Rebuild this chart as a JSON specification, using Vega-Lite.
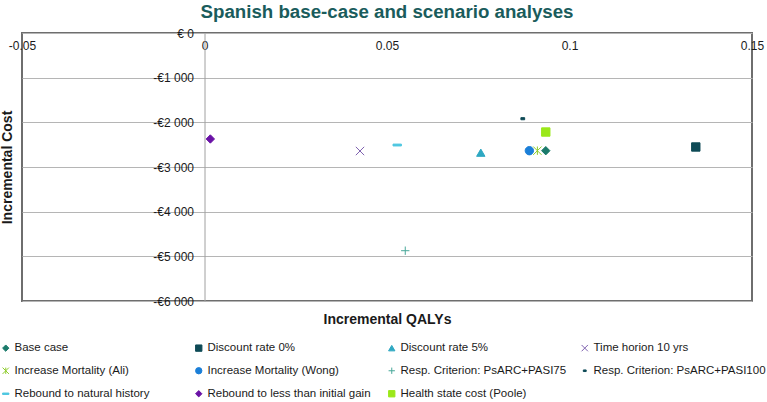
{
  "$schema": "https://vega.github.io/schema/vega-lite/v6.json",
  "width": 730,
  "height": 268,
  "autosize": {"type": "none"},
  "padding": {"left": 22, "top": 33, "right": 15, "bottom": 101},
  "background": "white",
  "config": {
    "font": "Liberation Sans",
    "view": {"stroke": "#6e6e6e", "strokeWidth": 2}
  },
  "title": {
    "text": "Spanish base-case and scenario analyses",
    "fontSize": 18.7,
    "fontWeight": "bold",
    "color": "#1a5c5c",
    "anchor": "middle",
    "offset": 5
  },
  "data": {
    "values": [
      {"scenario": "Base case", "qaly": 0.0935, "cost": -2635},
      {"scenario": "Discount rate 0%", "qaly": 0.1346, "cost": -2552},
      {"scenario": "Discount rate 5%", "qaly": 0.0757, "cost": -2680},
      {"scenario": "Time horion 10 yrs", "qaly": 0.0426, "cost": -2642},
      {"scenario": "Increase Mortality (Ali)", "qaly": 0.0912, "cost": -2635},
      {"scenario": "Increase Mortality (Wong)", "qaly": 0.089, "cost": -2635},
      {"scenario": "Resp. Criterion: PsARC+PASI75", "qaly": 0.055, "cost": -4874},
      {"scenario": "Resp. Criterion: PsARC+PASI100", "qaly": 0.0872, "cost": -1919},
      {"scenario": "Rebound to natural history", "qaly": 0.0528, "cost": -2508},
      {"scenario": "Rebound to less than initial gain", "qaly": 0.0016, "cost": -2373},
      {"scenario": "Health state cost (Poole)", "qaly": 0.0935, "cost": -2217}
    ]
  },
  "mark": {"type": "point", "filled": true, "strokeWidth": 1, "size": 70, "opacity": 1},
  "encoding": {
    "x": {
      "field": "qaly",
      "type": "quantitative",
      "scale": {"domain": [-0.05, 0.15], "nice": false, "zero": false},
      "axis": {
        "orient": "top",
        "values": [-0.05, 0, 0.05, 0.1, 0.15],
        "labelExpr": "toString(datum.value)",
        "domain": false,
        "ticks": false,
        "tickSize": 0,
        "grid": false,
        "labelFlush": false,
        "labelOverlap": false,
        "labelBaseline": "top",
        "labelPadding": -7,
        "labelFontSize": 12,
        "labelColor": "#1a1a1a",
        "title": "Incremental QALYs",
        "titleFontSize": 14,
        "titleFontWeight": "bold",
        "titleColor": "#1a1a1a",
        "titleX": 365,
        "titleY": 286,
        "titleBaseline": "middle",
        "titleAlign": "center"
      }
    },
    "y": {
      "field": "cost",
      "type": "quantitative",
      "scale": {"domain": [-6000, 0], "nice": false, "zero": false},
      "axis": {
        "orient": "left",
        "offset": -182.5,
        "values": [-6000, -5000, -4000, -3000, -2000, -1000, 0],
        "labelExpr": "datum.value == 0 ? '€ 0' : '-€' + replace(format(abs(datum.value), ','), ',', ' ')",
        "domainColor": "#a0a0a0",
        "domainWidth": 1,
        "ticks": false,
        "tickSize": 0,
        "grid": true,
        "gridColor": "#b5b5b5",
        "gridWidth": 1,
        "labelPadding": 11,
        "labelFontSize": 12,
        "labelColor": "#1a1a1a",
        "title": "Incremental Cost",
        "titleFontSize": 14,
        "titleFontWeight": "bold",
        "titleColor": "#1a1a1a",
        "titleAngle": -90,
        "titleX": -197.5,
        "titleY": 134,
        "titleBaseline": "middle",
        "titleAlign": "center"
      }
    },
    "fill": {
      "field": "scenario",
      "type": "nominal",
      "scale": {
        "domain": ["Base case", "Increase Mortality (Ali)", "Rebound to natural history", "Discount rate 0%", "Increase Mortality (Wong)", "Rebound to less than initial gain", "Discount rate 5%", "Resp. Criterion: PsARC+PASI75", "Health state cost (Poole)", "Time horion 10 yrs", "Resp. Criterion: PsARC+PASI100"],
        "range": ["#1b7b6b", "#8fcc2c", "#4cc6e0", "#0e4a56", "#1b7fd8", "#6a12a6", "#2ea8c2", "#4aa89a", "#9be81a", "#7f62b0", "#0e4a56"]
      },
      "legend": {
        "orient": "none",
        "legendX": -22,
        "legendY": 309,
        "columns": 4,
        "gridAlign": "all",
        "columnPadding": 6,
        "rowPadding": 10,
        "title": null,
        "labelFontSize": 11.5,
        "labelColor": "#1a1a1a",
        "labelOffset": 3,
        "labelLimit": 300,
        "symbolSize": 40,
        "symbolStrokeWidth": 1
      }
    },
    "stroke": {
      "field": "scenario",
      "type": "nominal",
      "scale": {
        "domain": ["Base case", "Increase Mortality (Ali)", "Rebound to natural history", "Discount rate 0%", "Increase Mortality (Wong)", "Rebound to less than initial gain", "Discount rate 5%", "Resp. Criterion: PsARC+PASI75", "Health state cost (Poole)", "Time horion 10 yrs", "Resp. Criterion: PsARC+PASI100"],
        "range": ["#1b7b6b", "#8fcc2c", "#4cc6e0", "#0e4a56", "#1b7fd8", "#6a12a6", "#2ea8c2", "#4aa89a", "#9be81a", "#7f62b0", "#0e4a56"]
      }
    },
    "shape": {
      "field": "scenario",
      "type": "nominal",
      "scale": {
        "domain": ["Base case", "Increase Mortality (Ali)", "Rebound to natural history", "Discount rate 0%", "Increase Mortality (Wong)", "Rebound to less than initial gain", "Discount rate 5%", "Resp. Criterion: PsARC+PASI75", "Health state cost (Poole)", "Time horion 10 yrs", "Resp. Criterion: PsARC+PASI100"],
        "range": ["diamond", "M-1,-1L1,1M1,-1L-1,1M0,-1L0,1", "M-1,-0.22L1,-0.22L1,0.22L-1,0.22Z", "square", "circle", "diamond", "triangle-up", "M-1,0L1,0M0,-1L0,1", "square", "M-1,-1L1,1M1,-1L-1,1", "M-0.45,-0.25L0.45,-0.25L0.45,0.25L-0.45,0.25Z"]
      }
    }
  }
}
